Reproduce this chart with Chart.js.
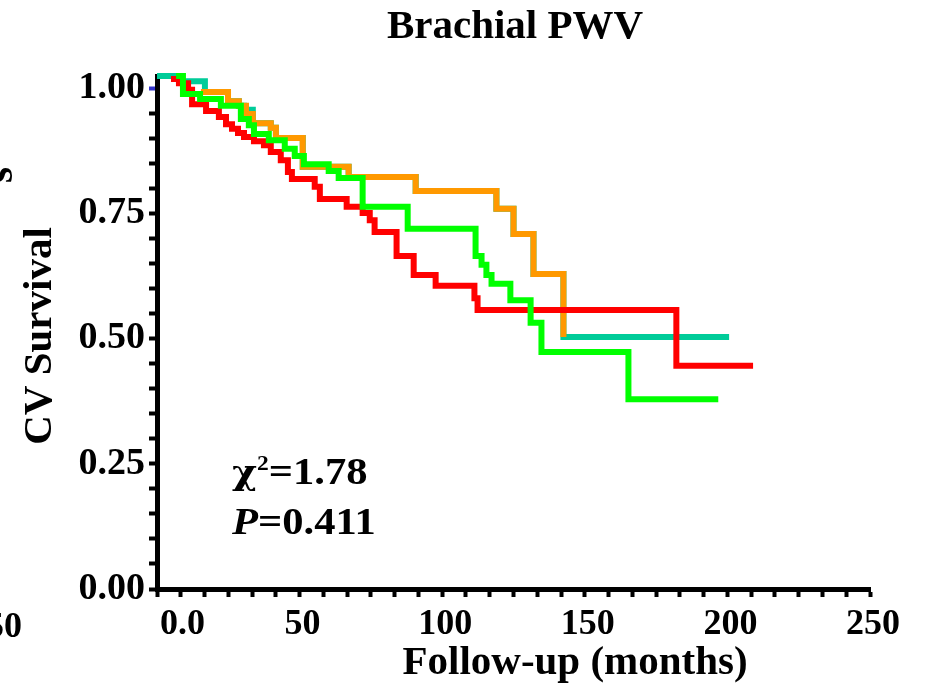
<!doctype html>
<html lang="en">
<head>
  <meta charset="utf-8">
  <title>Brachial PWV</title>
  <script src="https://cdn.jsdelivr.net/npm/chart.js"></script>
  <style>
    html, body { margin: 0; padding: 0; background: #fff; }
    canvas { display: block; }
  </style>
</head>
<body>
  <canvas id="canvas_km" width="926" height="688"></canvas>
  <script>
    // Kaplan-Meier steps: time of each drop (months) and survival after it
    const teal_months = [0, 7.7, 16.8, 24.9, 28.7, 30.5, 33.6, 39.9, 41.7, 51.1, 67.2, 90.7, 119.0, 125.0, 132.0, 142.5, 200.6];
    const teal_survival = [1.0, 0.990, 0.969, 0.951, 0.942, 0.934, 0.908, 0.899, 0.879, 0.823, 0.803, 0.776, 0.741, 0.692, 0.614, 0.491, 0.491];

    const orange_months = [15.4, 24.9, 28.7, 31.2, 33.6, 39.9, 41.7, 51.1, 67.2, 90.7, 119.0, 125.0, 132.0, 142.5];
    const orange_survival = [0.969, 0.951, 0.942, 0.926, 0.908, 0.899, 0.879, 0.823, 0.803, 0.776, 0.741, 0.692, 0.614, 0.491];

    const red_months = [4.9, 7.7, 10.9, 12.3, 17.2, 21.7, 24.2, 26.3, 28.4, 30.5, 34.0, 37.5, 39.9, 43.4, 45.9, 47.3, 55.3, 57.1, 66.5, 72.1, 74.6, 76.3, 84.0, 90.0, 97.7, 111.3, 112.4, 182.1, 209.0];
    const red_survival = [0.994, 0.986, 0.973, 0.945, 0.932, 0.920, 0.906, 0.897, 0.889, 0.881, 0.873, 0.865, 0.852, 0.836, 0.813, 0.799, 0.784, 0.760, 0.745, 0.733, 0.719, 0.696, 0.649, 0.612, 0.591, 0.567, 0.544, 0.435, 0.435];

    const green_months = [6.7, 9.1, 15.1, 22.4, 29.4, 32.2, 34.0, 39.2, 44.8, 48.3, 51.5, 60.2, 63.7, 72.1, 87.9, 111.7, 113.8, 115.5, 117.3, 123.9, 131.0, 134.8, 165.3, 196.8];
    const green_survival = [1.0, 0.965, 0.955, 0.942, 0.916, 0.904, 0.887, 0.875, 0.858, 0.844, 0.828, 0.815, 0.801, 0.745, 0.702, 0.649, 0.632, 0.612, 0.595, 0.563, 0.519, 0.462, 0.370, 0.370];

    const x_tick_labels = ['0.0', '50', '100', '150', '200', '250'];
    const y_tick_labels = ['0.00', '0.25', '0.50', '0.75', '1.00'];

    const chi_text = '=1.78';
    const p_text = '=0.411';

    function to_points(months, survival) {
      return months.map((m, i) => ({ x: m, y: survival[i] }));
    }

    function km_dataset(months, survival, color, order) {
      return {
        data: to_points(months, survival),
        borderColor: color,
        borderWidth: 6,
        stepped: 'before',
        pointRadius: 0,
        fill: false,
        yAxisID: 'y2',
        order: order,
        clip: 8
      };
    }

    // free text of the figure (titles, statistics, cut-off bits of the neighbouring panel)
    const text_plugin = {
      id: 'text_plugin',
      afterDraw(chart) {
        const ctx = chart.ctx;
        ctx.save();
        ctx.fillStyle = '#000';

        ctx.textAlign = 'center';
        ctx.textBaseline = 'alphabetic';
        ctx.font = 'bold 41px "Liberation Serif"';
        ctx.fillText('Brachial PWV', 515, 38);
        ctx.fillText('Follow-up (months)', 575, 674);

        ctx.save();
        ctx.translate(51, 336);
        ctx.rotate(-Math.PI / 2);
        ctx.fillText('CV Survival', 0, 0);
        ctx.restore();

        // neighbouring panel, cut by the edge
        ctx.save();
        ctx.translate(12, 175);
        ctx.rotate(-Math.PI / 2);
        ctx.fillText('s', 0, 0);
        ctx.restore();
        ctx.textAlign = 'right';
        ctx.font = 'bold 36px "Liberation Serif"';
        ctx.fillText('250', 22, 637);

        // statistics, slightly wide like the original
        ctx.textAlign = 'left';
        ctx.save();
        ctx.translate(232, 0);
        ctx.scale(1.12, 1);
        let x = 0;
        ctx.font = 'bold 34px "DejaVu Serif"';
        ctx.fillText('χ', x, 484);
        x += ctx.measureText('χ').width;
        ctx.font = 'bold 21px "Liberation Serif"';
        ctx.fillText('2', x, 470);
        x += ctx.measureText('2').width;
        ctx.font = 'bold 38px "Liberation Serif"';
        ctx.fillText(chi_text, x, 484);

        x = 0;
        ctx.font = 'italic bold 38px "Liberation Serif"';
        ctx.fillText('P', x, 534);
        x += ctx.measureText('P').width;
        ctx.font = 'bold 38px "Liberation Serif"';
        ctx.fillText(p_text, x, 534);
        ctx.restore();

        ctx.restore();
      }
    };

    const canvas_km = document.getElementById('canvas_km');

    const chart_km = new Chart(canvas_km, {
      type: 'line',
      data: {
        datasets: [
          km_dataset(green_months, green_survival, '#00ff00', 1),
          km_dataset(red_months, red_survival, '#ff0000', 2),
          km_dataset(orange_months, orange_survival, '#ff9900', 3),
          km_dataset(teal_months, teal_survival, '#00cc99', 4)
        ]
      },
      options: {
        responsive: false,
        animation: false,
        devicePixelRatio: 1,
        layout: { padding: { top: 76, right: 56, left: 0, bottom: 0 } },
        plugins: { legend: { display: false }, title: { display: false }, tooltip: { enabled: false } },
        scales: {
          x: {
            type: 'linear', min: 0, max: 250,
            afterFit: (scale) => { scale.height = 99; },
            afterBuildTicks: (scale) => { scale.ticks = Array.from({ length: 31 }, (_, i) => ({ value: i * 250 / 30 })); },
            grid: { drawOnChartArea: false, drawTicks: true, tickLength: 8, tickWidth: 4, tickColor: '#000' },
            border: { display: true, color: '#000', width: 5 },
            ticks: {
              autoSkip: false, maxRotation: 0, padding: 6, labelOffset: 3, color: '#000',
              font: { family: '"Liberation Serif"', size: 36, weight: 'bold' },
              callback: function (value, index) {
                if (index % 6 !== 0) return '';
                return index === 0 ? '     ' + x_tick_labels[0] : x_tick_labels[index / 6];
              }
            }
          },
          y: {
            type: 'linear', min: 0, max: 513 / 501,
            afterFit: (scale) => { scale.width = 157; },
            afterBuildTicks: (scale) => { scale.ticks = Array.from({ length: 21 }, (_, i) => ({ value: i * 0.05 })); },
            grid: {
              drawOnChartArea: false, drawTicks: true, tickLength: 8, tickWidth: 4,
              tickColor: (c) => (c.index === 20 ? '#3333cc' : '#000')
            },
            border: { display: true, color: '#000', width: 5 },
            ticks: {
              autoSkip: false, padding: 4, color: '#000',
              font: { family: '"Liberation Serif"', size: 38, weight: 'bold' },
              callback: function (value, index) { return index % 5 === 0 ? y_tick_labels[index / 5] : ''; }
            }
          },
          y2: { type: 'linear', display: false, min: 0, max: 1 }
        }
      },
      plugins: [text_plugin]
    });
  </script>
</body>
</html>
